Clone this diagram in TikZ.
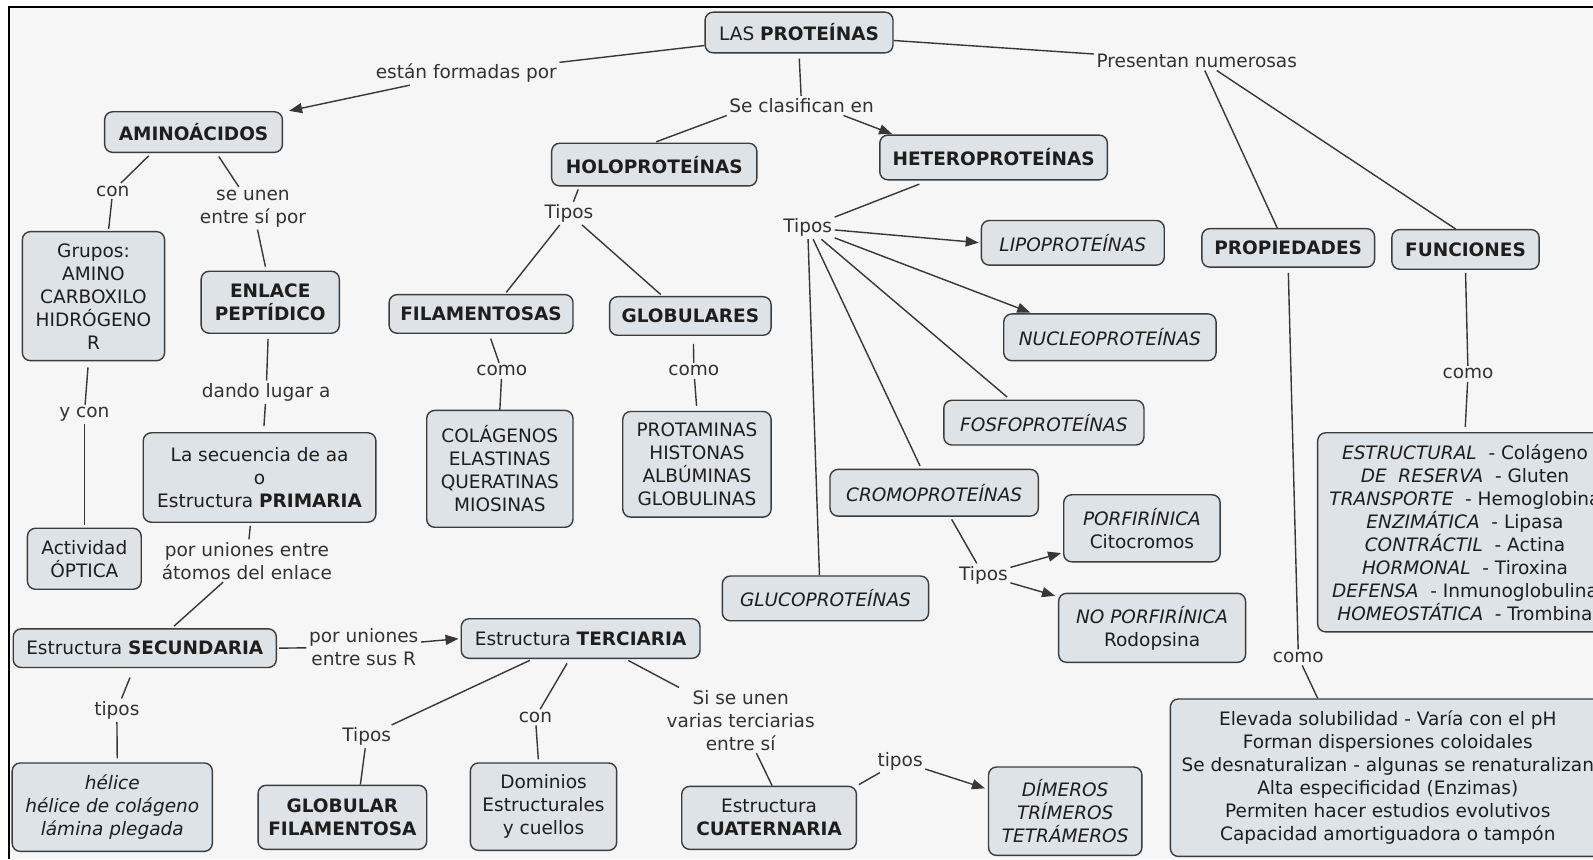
\documentclass[tikz,border=0pt]{standalone}
\usepackage{fontspec}
\setmainfont{DejaVu Sans}
\usetikzlibrary{fit,arrows.meta,calc}
\definecolor{boxfill}{RGB}{221,227,230}
\definecolor{boxline}{RGB}{60,60,60}
\definecolor{linkcol}{RGB}{55,55,55}
\definecolor{paper}{RGB}{246,246,246}
\definecolor{ink}{RGB}{30,30,30}
\definecolor{labink}{RGB}{50,50,50}
\newcommand\mapfont{\fontsize{18.5}{23}\selectfont}
% a concept box: frame fitted to two corners, text set centred on it
\newcommand\concept[4][]{%
  \node[box, fit={#2}] (#3) {};
  \node[ctext, #1] (#3t) at (#3.center) {#4};}

\begin{document}
\begin{tikzpicture}[x=1.016pt,y=-1.016pt,
  every node/.style={font=\mapfont},
  box/.style={draw=boxline, line width=1.4pt, fill=boxfill, rounded corners=8pt, inner sep=0pt},
  ctext/.style={inner sep=0pt, align=center, text=ink},
  bf/.style={font=\mapfont\bfseries},
  it/.style={font=\mapfont\itshape},
  lab/.style={inner sep=2.5pt, align=center, text=labink},
  ln/.style={draw=linkcol, line width=1.4pt},
  arr/.style={ln, -{Triangle[length=13pt,width=10pt]}},
]
\useasboundingbox (0,0) rectangle (1568,846);
\fill[white] (0,0) rectangle (1568,846);
\fill[paper] (9,7) rectangle (1568,846);
\draw[line width=2pt] (1568,7) -- (9,7) -- (9,846);

% ---------- concept boxes ----------
\concept{(694,12)(879,52)}{prot}{LAS \textbf{PROTEÍNAS}}
\concept[bf]{(103,110)(278,150)}{amino}{AMINOÁCIDOS}
\concept[bf]{(543,141)(745,183)}{holo}{HOLOPROTEÍNAS}
\concept[bf]{(866,133)(1090,177)}{hetero}{HETEROPROTEÍNAS}
\concept[bf]{(1183,225)(1353,263)}{propied}{PROPIEDADES}
\concept[bf]{(1370,226)(1515,265)}{funcion}{FUNCIONES}
\concept{(22,228)(162,355)}{grupos}{Grupos:\\AMINO\\CARBOXILO\\HIDRÓGENO\\R}
\concept[bf]{(198,267)(334,328)}{enlace}{ENLACE\\PEPTÍDICO}
\concept[bf]{(383,290)(564,328)}{filam}{FILAMENTOSAS}
\concept[bf]{(600,292)(759,330)}{globul}{GLOBULARES}
\concept{(420,404)(564,519)}{colag}{COLÁGENOS\\ELASTINAS\\QUERATINAS\\MIOSINAS}
\concept{(613,405)(759,509)}{protam}{PROTAMINAS\\HISTONAS\\ALBÚMINAS\\GLOBULINAS}
\concept[it]{(966,217)(1146,261)}{lipo}{LIPOPROTEÍNAS}
\concept[it]{(988,309)(1197,355)}{nucleo}{NUCLEOPROTEÍNAS}
\concept[it]{(929,394)(1126,438)}{fosfo}{FOSFOPROTEÍNAS}
\concept[it]{(817,462)(1022,508)}{cromo}{CROMOPROTEÍNAS}
\concept[it]{(711,567)(914,611)}{gluco}{GLUCOPROTEÍNAS}
\concept{(1047,487)(1201,553)}{porf}{\textit{PORFIRÍNICA}\\Citocromos}
\concept{(1042,584)(1226,652)}{noporf}{\textit{NO PORFIRÍNICA}\\Rodopsina}
\concept{(141,426)(370,514)}{secuencia}{La secuencia de aa\\o\\Estructura \textbf{PRIMARIA}}
\concept{(27,520)(139,580)}{optica}{Actividad\\ÓPTICA}
\concept{(13,619)(272,657)}{secund}{Estructura \textbf{SECUNDARIA}}
\concept{(454,609)(689,648)}{terc}{Estructura \textbf{TERCIARIA}}
\concept[it]{(12,751)(209,838)}{helice}{hélice\\hélice de colágeno\\lámina plegada}
\concept[bf]{(254,773)(420,836)}{globfil}{GLOBULAR\\FILAMENTOSA}
\concept{(463,751)(607,837)}{dominios}{Dominios\\Estructurales\\y cuellos}
\concept{(671,774)(843,836)}{cuat}{Estructura\\\textbf{CUATERNARIA}}
\concept[it]{(973,755)(1124,842)}{dimeros}{DÍMEROS\\TRÍMEROS\\TETRÁMEROS}
\concept{(1297,426)(1587,622)}{funclist}{%
  \textit{ESTRUCTURAL}\ \ - Colágeno\\
  \textit{DE\ \ RESERVA}\ \ - Gluten\\
  \textit{TRANSPORTE}\ \ - Hemoglobina\\
  \textit{ENZIMÁTICA}\ \ - Lipasa\\
  \textit{CONTRÁCTIL}\ \ - Actina\\
  \textit{HORMONAL}\ \ - Tiroxina\\
  \textit{DEFENSA}\ \ - Inmunoglobulina\\
  \textit{HOMEOSTÁTICA}\ \ - Trombina}
\concept{(1152,688)(1580,843)}{propbox}{%
  Elevada solubilidad - Varía con el pH\\
  Forman dispersiones coloidales\\
  Se desnaturalizan - algunas se renaturalizan\\
  Alta especificidad (Enzimas)\\
  Permiten hacer estudios evolutivos\\
  Capacidad amortiguadora o tampón}

% ---------- linking phrases ----------
\node[lab] (l_form) at (459,72) {están formadas por};
\node[lab] (l_clas) at (789,104) {Se clasifican en};
\node[lab] (l_pres) at (1178,60) {Presentan numerosas};
\node[lab] (l_con) at (111,188) {con};
\node[lab] (l_unen) at (249,205) {se unen\\entre sí por};
\node[lab] (l_tholo) at (560,210) {Tipos};
\node[lab] (l_thet) at (795,224) {Tipos};
\node[lab] (l_cfil) at (494,365) {como};
\node[lab] (l_cglo) at (683,365) {como};
\node[lab] (l_dando) at (262,386) {dando lugar a};
\node[lab] (l_ycon) at (83,408) {y con};
\node[lab] (l_atom) at (243,552) {por uniones entre\\átomos del enlace};
\node[lab] (l_sus) at (358,637) {por uniones\\entre sus R};
\node[lab] (l_tcro) at (968,566) {Tipos};
\node[lab] (l_tsec) at (115,699) {tipos};
\node[lab] (l_tter) at (361,725) {Tipos};
\node[lab] (l_cter) at (527,706) {con};
\node[lab] (l_si) at (729,709) {Si se unen\\varias terciarias\\entre sí};
\node[lab] (l_tcua) at (886,749) {tipos};
\node[lab] (l_cfun) at (1445,368) {como};
\node[lab] (l_cpro) at (1278,647) {como};

% ---------- connectors ----------
\draw[ln] ([yshift=8pt]prot.south west) -- (l_form);
\draw[arr, shorten >=1pt] (l_form) -- ([xshift=5pt]amino.north east);
\draw[ln, shorten <=5pt] (prot.south) -- (l_clas);
\draw[ln, shorten >=2pt] (l_clas.south west) -- (holo.north);
\draw[arr, shorten >=1pt] ([xshift=42pt]l_clas.south) -- ([xshift=14pt]hetero.north west);
\draw[ln] ([yshift=-8pt]prot.east) -- (l_pres);
\draw[ln] ([xshift=8pt]l_pres.south) -- ([xshift=-11pt]propied.north);
\draw[ln] ([xshift=20pt]l_pres.south) -- ([xshift=-10pt]funcion.north);

\draw[ln, shorten <=4pt] ([xshift=-42pt]amino.south) -- (l_con);
\draw[ln, shorten >=2pt] (l_con) -- ([xshift=15pt]grupos.north);
\draw[ln, shorten <=4pt] ([xshift=23pt]amino.south) -- (l_unen);
\draw[ln, shorten >=4pt] (l_unen) -- ([xshift=-4pt]enlace.north);

\draw[ln, shorten <=3pt] ([xshift=-75pt]holo.south) -- (l_tholo);
\draw[ln, shorten >=2pt] (l_tholo) -- ([xshift=24pt]filam.north);
\draw[ln, shorten >=2pt] (l_tholo) -- ([xshift=-28pt]globul.north);
\draw[ln, shorten <=5pt] ([xshift=8pt]filam.south) -- (l_cfil);
\draw[ln] (l_cfil) -- (colag.north);
\draw[ln, shorten <=8pt] ([xshift=3pt]globul.south) -- (l_cglo);
\draw[ln, shorten >=5pt] (l_cglo) -- (protam.north);

\draw[ln, shorten <=10pt] ([xshift=-65pt]hetero.south) -- (l_thet);
\draw[arr, shorten >=2pt] (l_thet) -- (lipo.west);
\draw[arr, shorten >=2pt] (l_thet) -- ([xshift=29pt]nucleo.north west);
\draw[ln, shorten >=4pt] (l_thet) -- ([xshift=67pt]fosfo.north west);
\draw[ln, shorten >=3pt] (l_thet) -- ([xshift=92pt]cromo.north west);
\draw[ln] (l_thet) -- ([xshift=-6pt]gluco.north);

\draw[ln, shorten <=3pt] ([xshift=16pt]cromo.south) -- (l_tcro);
\draw[arr, shorten >=2pt] (l_tcro) -- ([yshift=10pt]porf.south west);
\draw[arr, shorten >=3pt] (l_tcro) -- ([yshift=-4pt]noporf.north west);

\draw[ln, shorten <=5pt] ([xshift=-2pt]enlace.south) -- (l_dando);
\draw[ln, shorten >=6pt] (l_dando) -- ([xshift=4pt]secuencia.north);
\draw[ln, shorten <=6pt] ([xshift=-5pt]grupos.south) -- (l_ycon);
\draw[ln, shorten >=3pt] (l_ycon) -- (optica.north);
\draw[ln, shorten <=3pt] ([xshift=-9pt]secuencia.south) -- (l_atom);
\draw[ln, shorten >=3pt] (l_atom) -- ([xshift=27pt]secund.north);
\draw[ln, shorten <=2pt] (secund.east) -- (l_sus);
\draw[arr, shorten >=2pt] (l_sus) -- (terc.west);

\draw[ln, shorten <=10pt] ([xshift=-11pt]secund.south) -- (l_tsec);
\draw[ln, shorten >=4pt] (l_tsec) -- ([xshift=5pt]helice.north);
\draw[ln, shorten <=3pt] ([xshift=-48pt]terc.south) -- (l_tter);
\draw[ln] (l_tter) -- ([xshift=18pt]globfil.north);
\draw[ln, shorten <=5pt] ([xshift=-11pt]terc.south) -- (l_cter);
\draw[ln, shorten >=3pt] (l_cter) -- ([xshift=-5pt]dominios.north);
\draw[ln, shorten <=3pt] ([xshift=45pt]terc.south) -- (l_si);
\draw[ln] (l_si) -- ([xshift=3pt]cuat.north);
\draw[ln, shorten <=2pt] (cuat.north east) -- (l_tcua);
\draw[arr, shorten >=3pt] (l_tcua) -- ([yshift=22pt]dimeros.west);

\draw[ln, shorten <=3pt] (funcion.south) -- (l_cfun);
\draw[ln, shorten >=5pt] (l_cfun) -- (funclist.north);
\draw[ln, shorten <=5pt] (propied.south) -- (l_cpro);
\draw[ln] (l_cpro) -- ([xshift=148pt]propbox.north west);
\end{tikzpicture}
\end{document}
